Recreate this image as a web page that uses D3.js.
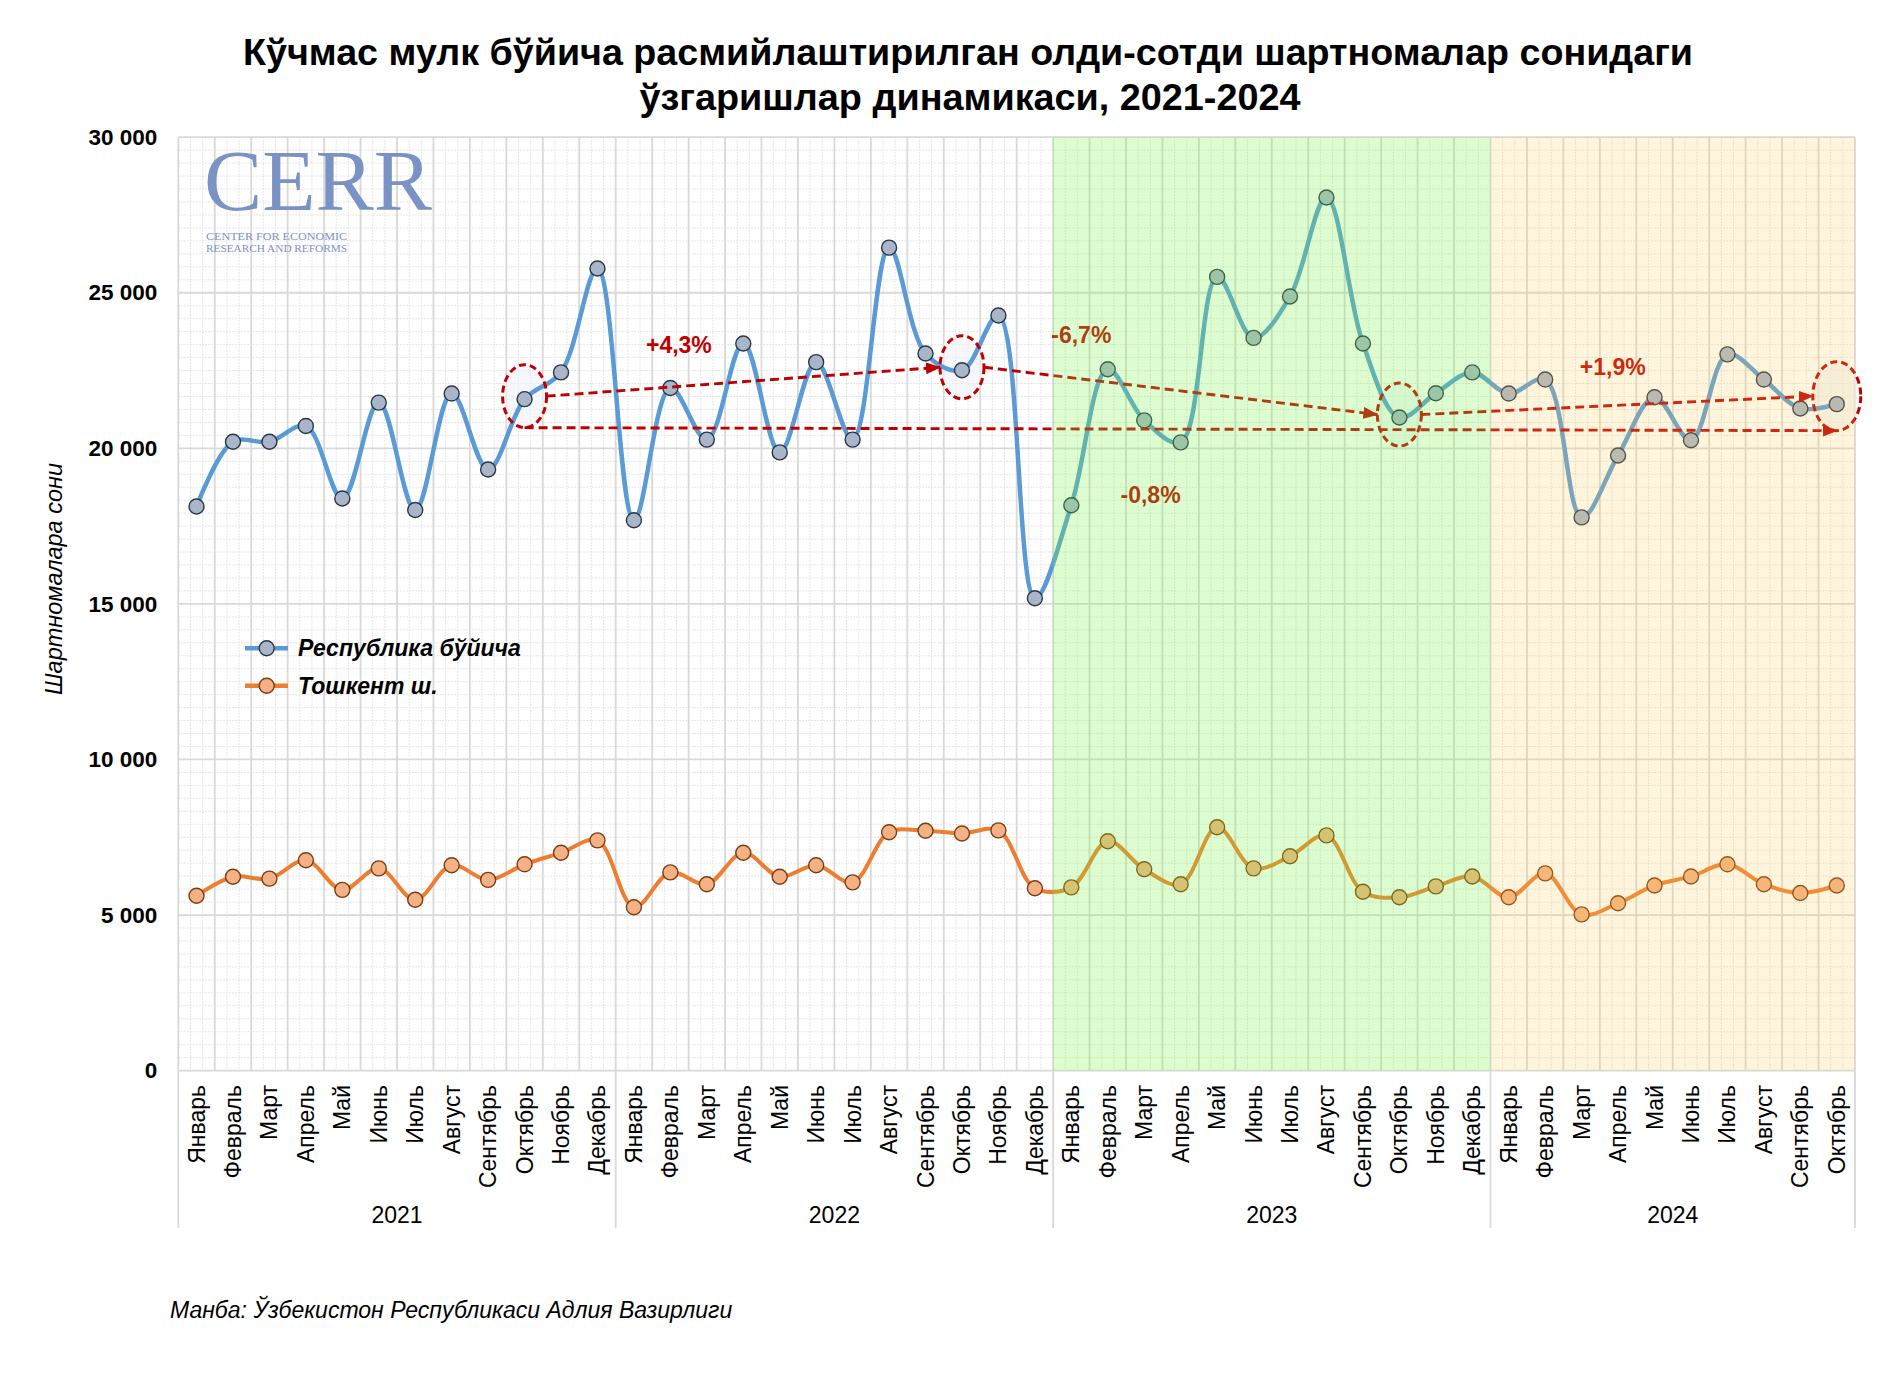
<!DOCTYPE html>
<html lang="uz">
<head>
<meta charset="UTF-8">
<title>Кўчмас мулк бўйича олди-сотди шартномалари</title>
<script src="https://d3js.org/d3.v7.min.js"></script>
<style>
  body { margin: 0; background: #fff; }
  svg { display: block; font-family: "Liberation Sans", Arial, sans-serif; }
  .minor line { stroke: #dedede; stroke-width: 1; stroke-dasharray: 1.5 1.5; }
  .major line { stroke: #d9d9d9; stroke-width: 1.8; }
  .ytick { font-size: 22.5px; font-weight: bold; fill: #000; }
  .month { font-size: 23px; fill: #000; }
  .year { font-size: 23px; fill: #000; }
  .change { font-size: 23px; font-weight: bold; fill: #c00000; }
  .legend text { font-size: 23px; font-weight: bold; font-style: italic; }
</style>
</head>
<body>
<div id="chart"></div>
<script>
// --- data ---
const months = ["Январь", "Февраль", "Март", "Апрель", "Май", "Июнь",
                "Июль", "Август", "Сентябрь", "Октябрь", "Ноябрь", "Декабрь"];
const years = ["2021", "2022", "2023", "2024"];
const yearLengths = [12, 12, 12, 10];

// Республика бўйича
const republic = [
  18130, 20210, 20210, 20720, 18390, 21470, 18020, 21760, 19320, 21580, 22440, 25780,
  17690, 21940, 20280, 23370, 19870, 22770, 20280, 26450, 23050, 22510, 24270, 15180,
  18170, 22540, 20900, 20190, 25510, 23550, 24880, 28060, 23370, 20990, 21770, 22440,
  21760, 22210, 17780, 19770, 21640, 20260, 23020, 22210, 21280, 21420
];
// Тошкент ш.
const tashkent = [
  5620, 6230, 6170, 6760, 5810, 6500, 5490, 6600, 6130, 6630, 7000, 7400,
  5250, 6370, 5990, 7000, 6230, 6600, 6050, 7660, 7710, 7620, 7720, 5860,
  5890, 7370, 6470, 5990, 7820, 6500, 6890, 7560, 5750, 5570, 5920, 6240,
  5570, 6340, 5020, 5380, 5950, 6240, 6630, 5990, 5710, 5950
];

const yTicks = [0, 5000, 10000, 15000, 20000, 25000, 30000];

// October points compared year over year, and the change labels
const octIdx = [9, 21, 33, 45];
const changes = ["+4,3%", "-6,7%", "-0,8%", "+1,9%"];
const changeAt = [[12.83, 23060], [23.95, 23400], [25.85, 18230], [38.45, 22370]]; // [month index, value]

// --- layout ---
const W = 1893, H = 1375;
const plot = { left: 178.3, right: 1855, top: 137.2, bottom: 1070.6 };

const labels = [];
years.forEach((yr, k) => {
  for (let m = 0; m < yearLengths[k]; m++) labels.push({ year: yr, month: months[m] });
});

const x = d3.scaleBand().domain(d3.range(labels.length)).range([plot.left, plot.right]).padding(0);
const xAt = i => x(0) + i * x.step();          // fractional month position
const xc = i => x(i) + x.bandwidth() / 2;      // month centre
const y = d3.scaleLinear().domain([0, 30000]).range([plot.bottom, plot.top]);

const svg = d3.select("#chart").append("svg")
  .attr("width", W).attr("height", H);

svg.append("rect").attr("width", W).attr("height", H).attr("fill", "#fff");

const defs = svg.append("defs");
defs.append("marker")
  .attr("id", "arrow").attr("markerUnits", "userSpaceOnUse")
  .attr("markerWidth", 15).attr("markerHeight", 12)
  .attr("refX", 14).attr("refY", 6).attr("orient", "auto")
  .append("path").attr("d", "M0,0 L15,6 L0,12 Z").attr("fill", "#c00000");

// minor dotted grid
const minor = svg.append("g").attr("class", "minor");
const yMinor = d3.range(0, 30000, 5000 / 12).filter(v => Math.abs(v % 5000) > 1 && Math.abs(v % 5000 - 5000) > 1);
minor.selectAll("line.h").data(yMinor).join("line").attr("class", "h")
  .attr("x1", plot.left).attr("x2", plot.right)
  .attr("y1", d => y(d)).attr("y2", d => y(d));
const xMinor = d3.range(labels.length).flatMap(i => [i + 1 / 3, i + 2 / 3]);
minor.selectAll("line.v").data(xMinor).join("line").attr("class", "v")
  .attr("x1", d => xAt(d)).attr("x2", d => xAt(d))
  .attr("y1", plot.top).attr("y2", plot.bottom);

// major grid
const major = svg.append("g").attr("class", "major");
major.selectAll("line.h").data(yTicks).join("line").attr("class", "h")
  .attr("x1", plot.left).attr("x2", plot.right)
  .attr("y1", d => y(d)).attr("y2", d => y(d));
major.selectAll("line.v").data(d3.range(labels.length + 1)).join("line").attr("class", "v")
  .attr("x1", d => xAt(d)).attr("x2", d => xAt(d))
  .attr("y1", plot.top).attr("y2", plot.bottom);

// year separators below the axis
const yearBounds = [0];
yearLengths.forEach(n => yearBounds.push(yearBounds[yearBounds.length - 1] + n));
svg.append("g").selectAll("line").data(yearBounds).join("line")
  .attr("x1", d => xAt(d)).attr("x2", d => xAt(d))
  .attr("y1", plot.bottom).attr("y2", 1228)
  .attr("stroke", "#d9d9d9").attr("stroke-width", 1.8);

// ellipses around October values
const ell = octIdx.map((idx, k) => {
  const last = k === octIdx.length - 1;
  return { cx: xc(idx), cy: y(republic[idx]) - (last ? 8 : 3), rx: last ? 24 : 22, ry: last ? 34.5 : 31.5 };
});
svg.append("g").selectAll("ellipse").data(ell).join("ellipse")
  .attr("cx", d => d.cx).attr("cy", d => d.cy).attr("rx", d => d.rx).attr("ry", d => d.ry)
  .attr("fill", "#eef1f6").attr("fill-opacity", 0.6);

// series
const curve = d3.curveCatmullRom.alpha(0.5);
const line = d3.line().x((d, i) => xc(i)).y(d => y(d)).curve(curve);

svg.append("path").datum(tashkent)
  .attr("d", line).attr("fill", "none").attr("stroke", "#ed7d31").attr("stroke-width", 4);
svg.append("path").datum(republic)
  .attr("d", line).attr("fill", "none").attr("stroke", "#5b9bd5").attr("stroke-width", 4.5);

svg.append("g").selectAll("circle").data(tashkent).join("circle")
  .attr("cx", (d, i) => xc(i)).attr("cy", d => y(d)).attr("r", 7.5)
  .attr("fill", "#f4b183").attr("stroke", "#7a3c12").attr("stroke-width", 1.4);
svg.append("g").selectAll("circle").data(republic).join("circle")
  .attr("cx", (d, i) => xc(i)).attr("cy", d => y(d)).attr("r", 7.5)
  .attr("fill", "#a9b6c9").attr("stroke", "#2a3546").attr("stroke-width", 1.4);

// dashed comparison arrows
const arrows = [
  [ell[0].cx + ell[0].rx, ell[0].cy, ell[1].cx - ell[1].rx, ell[1].cy],
  [ell[1].cx + ell[1].rx, ell[1].cy, ell[2].cx - ell[2].rx, ell[2].cy],
  [ell[2].cx + ell[2].rx, ell[2].cy, ell[3].cx - ell[3].rx, ell[3].cy],
  [ell[0].cx, ell[0].cy + ell[0].ry, ell[3].cx, ell[3].cy + ell[3].ry]
];
svg.append("g").selectAll("line").data(arrows).join("line")
  .attr("x1", d => d[0]).attr("y1", d => d[1]).attr("x2", d => d[2]).attr("y2", d => d[3])
  .attr("stroke", "#c00000").attr("stroke-width", 2.9).attr("stroke-dasharray", "9 5")
  .attr("marker-end", "url(#arrow)");

svg.append("g").selectAll("ellipse").data(ell).join("ellipse")
  .attr("cx", d => d.cx).attr("cy", d => d.cy).attr("rx", d => d.rx).attr("ry", d => d.ry)
  .attr("fill", "none").attr("stroke", "#c00000").attr("stroke-width", 3)
  .attr("stroke-dasharray", "7 4");

svg.append("g").selectAll("text").data(changes).join("text")
  .attr("class", "change")
  .attr("x", (d, i) => xAt(changeAt[i][0])).attr("y", (d, i) => y(changeAt[i][1]))
  .text(d => d);

// shaded years 2023 and 2024, laid translucently over the plot
const shades = [{ from: yearBounds[2], to: yearBounds[3], color: "#77f743", alpha: 0.25 },
                { from: yearBounds[3], to: yearBounds[4], color: "#ffcd50", alpha: 0.2 }];
svg.append("g").selectAll("rect").data(shades).join("rect")
  .attr("x", d => xAt(d.from)).attr("width", d => xAt(d.to) - xAt(d.from))
  .attr("y", plot.top).attr("height", plot.bottom - plot.top)
  .attr("fill", d => d.color).attr("fill-opacity", d => d.alpha);

// y axis labels
const yAxis = d3.axisLeft(y).tickValues(yTicks).tickSize(0).tickPadding(0)
  .tickFormat(d => d3.format(",")(d).replace(/,/g, " "));
const yg = svg.append("g").attr("transform", `translate(${plot.left - 21},0)`).call(yAxis);
yg.select(".domain").remove();
yg.selectAll("text").attr("class", "ytick").attr("font-family", null).attr("font-size", null);

svg.append("text")
  .attr("transform", `translate(62,579) rotate(-90)`)
  .attr("text-anchor", "middle")
  .style("font-size", "23.5px").style("font-style", "italic")
  .text("Шартномалара сони");

// month labels
svg.append("g").selectAll("text").data(labels).join("text")
  .attr("class", "month")
  .attr("transform", (d, i) => `translate(${xc(i) + 8},1085) rotate(-90)`)
  .attr("text-anchor", "end")
  .text(d => d.month);

svg.append("g").selectAll("text").data(years).join("text")
  .attr("class", "year")
  .attr("x", (d, k) => (xAt(yearBounds[k]) + xAt(yearBounds[k + 1])) / 2)
  .attr("y", 1223).attr("text-anchor", "middle")
  .text(d => d);

// legend
const legendItems = [
  { name: "Республика бўйича", stroke: "#5b9bd5", fill: "#a9b6c9", edge: "#2a3546" },
  { name: "Тошкент ш.", stroke: "#ed7d31", fill: "#f4b183", edge: "#7a3c12" }
];
const lg = svg.append("g").attr("class", "legend")
  .selectAll("g").data(legendItems).join("g")
  .attr("transform", (d, i) => `translate(245,${648.3 + i * 37.4})`);
lg.append("line").attr("x1", 0).attr("x2", 43)
  .attr("stroke", d => d.stroke).attr("stroke-width", 4.5);
lg.append("circle").attr("cx", 21.7).attr("r", 7.5)
  .attr("fill", d => d.fill).attr("stroke", d => d.edge).attr("stroke-width", 1.4);
lg.append("text").attr("x", 53).attr("y", 8).text(d => d.name);

// CERR logo
const logo = svg.append("g").attr("fill", "#7b93c4")
  .style("font-family", "'Liberation Serif', 'DejaVu Serif', serif");
logo.append("text").attr("x", 204).attr("y", 210).style("font-size", "86px")
  .attr("textLength", 228).attr("lengthAdjust", "spacingAndGlyphs").text("CERR");
logo.append("text").attr("x", 206).attr("y", 239.5).style("font-size", "11px")
  .attr("textLength", 141).attr("lengthAdjust", "spacingAndGlyphs").text("CENTER FOR ECONOMIC");
logo.append("text").attr("x", 206).attr("y", 252).style("font-size", "11px")
  .attr("textLength", 141).attr("lengthAdjust", "spacingAndGlyphs").text("RESEARCH AND REFORMS");

// title
const title = svg.append("g").attr("text-anchor", "middle")
  .style("font-size", "36px").style("font-weight", "bold");
title.append("text").attr("x", 968).attr("y", 65)
  .attr("textLength", 1450).attr("lengthAdjust", "spacingAndGlyphs")
  .text("Кўчмас мулк бўйича расмийлаштирилган олди-сотди шартномалар сонидаги");
title.append("text").attr("x", 970).attr("y", 110)
  .attr("textLength", 661).attr("lengthAdjust", "spacingAndGlyphs")
  .text("ўзгаришлар динамикаси, 2021-2024");

// source
svg.append("text").attr("x", 170).attr("y", 1318)
  .style("font-size", "23px").style("font-style", "italic")
  .text("Манба: Ўзбекистон Республикаси Адлия Вазирлиги");
</script>
</body>
</html>
